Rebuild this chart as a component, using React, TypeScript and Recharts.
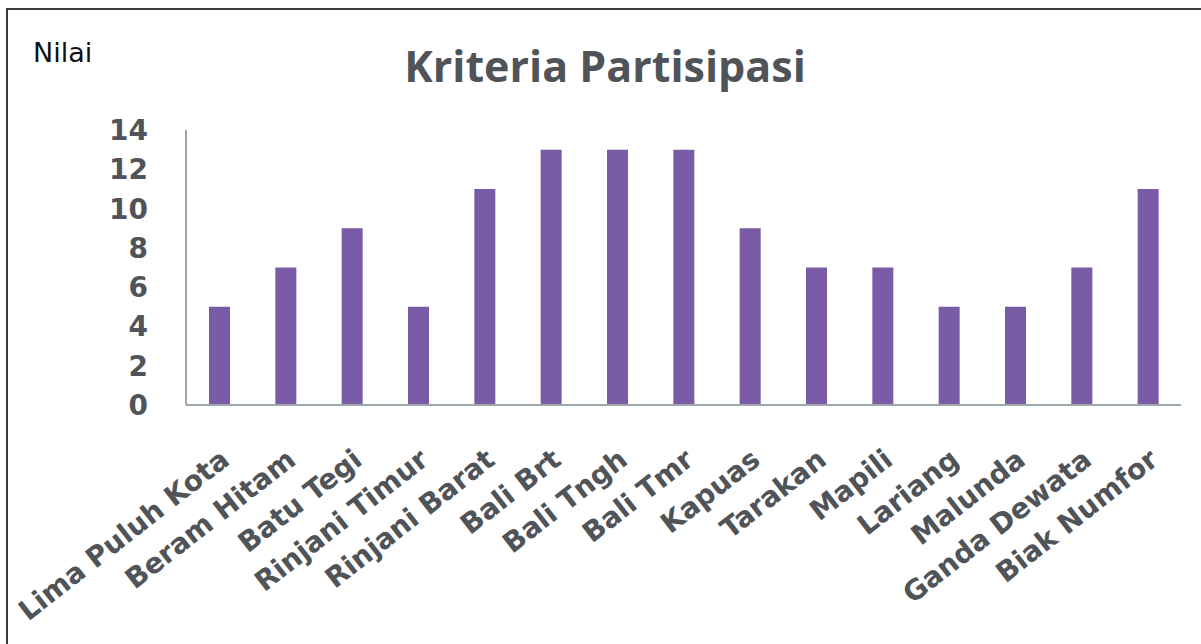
import React from "react"
import { Bar, BarChart, XAxis, YAxis } from "recharts"

const sites = [
  "Lima Puluh Kota",
  "Beram Hitam",
  "Batu Tegi",
  "Rinjani Timur",
  "Rinjani Barat",
  "Bali Brt",
  "Bali Tngh",
  "Bali Tmr",
  "Kapuas",
  "Tarakan",
  "Mapili",
  "Lariang",
  "Malunda",
  "Ganda Dewata",
  "Biak Numfor",
]
const nilai = [5, 7, 9, 5, 11, 13, 13, 13, 9, 7, 7, 5, 5, 7, 11]
const yTicks = [0, 2, 4, 6, 8, 10, 12, 14]

const data = sites.map((site, i) => ({ site, nilai: nilai[i] }))

const textColor = "#505458"
const tickFont = "'DejaVu Sans', sans-serif"

function SiteTick({ x, y, payload }: any) {
  const tx = x + 12
  const ty = y + 50
  return (
    <text
      x={tx}
      y={ty}
      transform={`rotate(-38, ${tx}, ${ty})`}
      textAnchor="end"
      fontFamily={tickFont}
      fontWeight={700}
      fontSize={28}
      fill={textColor}
    >
      {payload.value}
    </text>
  )
}

export default function App() {
  return (
    <div style={{ position: "absolute", left: 0, top: 0, width: 1201, height: 644, background: "#fff", overflow: "hidden" }}>
      <div
        style={{
          position: "absolute",
          left: 6,
          top: 8,
          width: 1201,
          height: 700,
          borderTop: "2px solid #3c3c3c",
          borderLeft: "2px solid #3c3c3c",
        }}
      />
      <div
        style={{
          position: "absolute",
          left: 33,
          top: 37,
          fontFamily: tickFont,
          fontSize: 27,
          color: "#111",
        }}
      >
        Nilai
      </div>
      <div
        style={{
          position: "absolute",
          left: 0,
          width: 1210,
          top: 36,
          textAlign: "center",
          fontFamily: "'Open Sans', sans-serif",
          fontWeight: 700,
          fontSize: 43,
          color: textColor,
        }}
      >
        Kriteria Partisipasi
      </div>
      <div style={{ position: "absolute", left: 0, top: 0 }}>
        <BarChart width={1201} height={644} data={data} margin={{ top: 130, right: 20, bottom: 0, left: 0 }}>
          <XAxis
            dataKey="site"
            interval={0}
            height={239}
            tickLine={false}
            axisLine={{ stroke: "#98a8ab", strokeWidth: 2 }}
            tick={<SiteTick />}
          />
          <YAxis
            width={186}
            domain={[0, 14]}
            ticks={yTicks}
            tickLine={false}
            tickSize={0}
            tickMargin={38}
            axisLine={{ stroke: "#98a8ab", strokeWidth: 2 }}
            tick={{ fontSize: 28, fontWeight: 700, fill: textColor, fontFamily: tickFont }}
          />
          <Bar dataKey="nilai" fill="#7a5ba5" barSize={21} isAnimationActive={false} />
        </BarChart>
      </div>
    </div>
  )
}
